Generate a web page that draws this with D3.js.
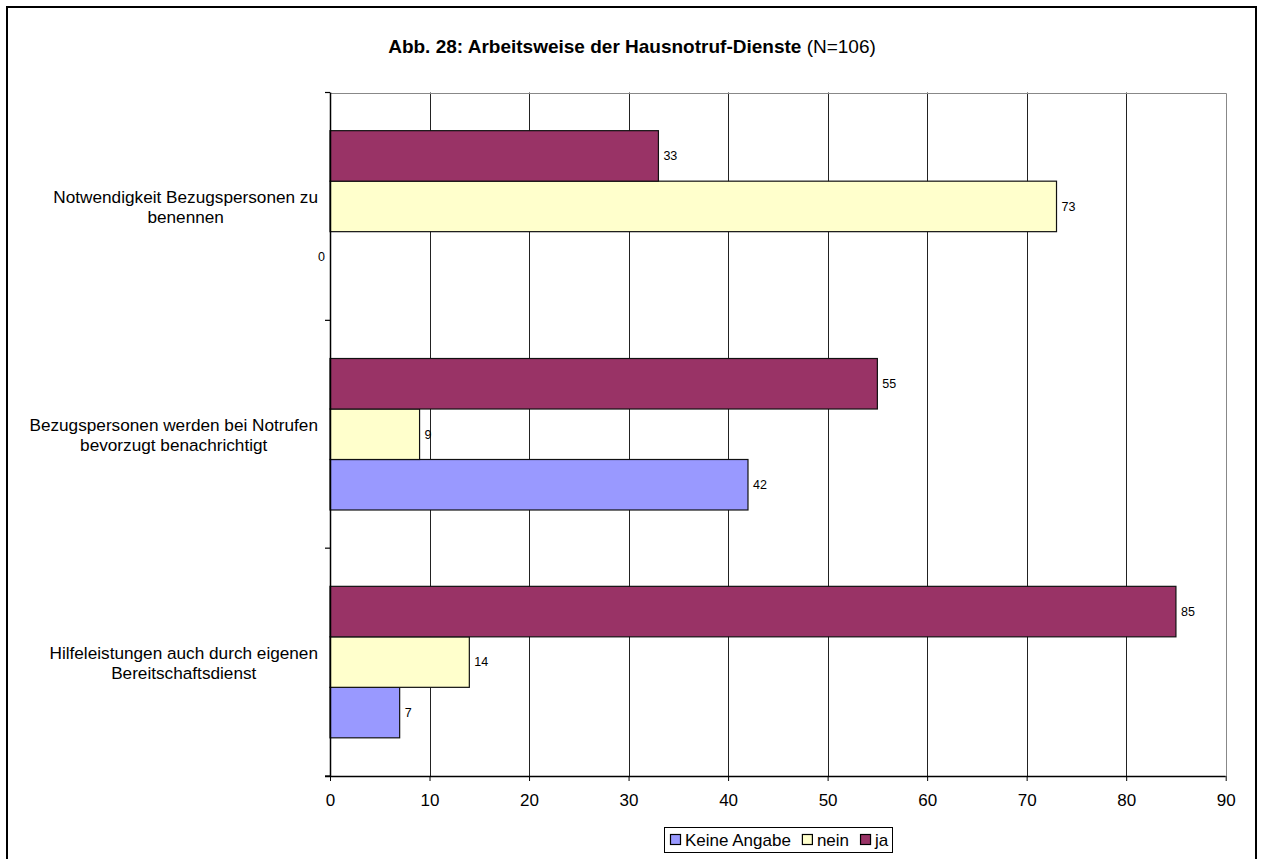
<!DOCTYPE html>
<html>
<head>
<meta charset="utf-8">
<script src="https://cdn.jsdelivr.net/npm/d3@7"></script>
<style>
  html, body { margin: 0; padding: 0; background: #fff; }
  svg { display: block; font-family: "Liberation Sans", Arial, sans-serif; }
</style>
</head>
<body>
<svg id="chart" width="1264" height="859"></svg>
<script>
// Category labels, one entry per line of text
const categoryLines = [
  ["Notwendigkeit Bezugspersonen zu", "benennen"],
  ["Bezugspersonen werden bei Notrufen", "bevorzugt benachrichtigt"],
  ["Hilfeleistungen auch durch eigenen", "Bereitschaftsdienst"]
];
const categories = categoryLines.map(l => l.join(" "));

// Answers per category
const keineAngabe = [0, 42, 7];
const nein = [73, 9, 14];
const ja = [33, 55, 85];

const seriesNames = ["Keine Angabe", "nein", "ja"];
const seriesValues = [keineAngabe, nein, ja];
const seriesColors = ["#9999FF", "#FFFFCC", "#993366"];

const xTicks = [0, 10, 20, 30, 40, 50, 60, 70, 80, 90];

const svg = d3.select("#chart");

// outer frame
svg.append("rect")
  .attr("x", 7).attr("y", 7).attr("width", 1249).attr("height", 870)
  .attr("fill", "none").attr("stroke", "#000").attr("stroke-width", 2);

const plotLeft = 330, plotRight = 1225.7, plotTop = 92.5, plotBottom = 776;

const x = d3.scaleLinear().domain([0, 90]).range([plotLeft, plotRight]);
const y = d3.scaleBand().domain(categories).range([plotTop, plotBottom]).padding(0);
// within each category: ja on top, then nein, then Keine Angabe
const ySeries = d3.scaleBand()
  .domain(["ja", "nein", "Keine Angabe"])
  .range([0, y.bandwidth()])
  .paddingInner(0).paddingOuter(0.756);

// vertical gridlines
svg.append("g")
  .selectAll("line")
  .data(xTicks.slice(1, -1))
  .join("line")
  .attr("x1", d => Math.round(x(d)) + 0.5).attr("x2", d => Math.round(x(d)) + 0.5)
  .attr("y1", plotTop).attr("y2", plotBottom)
  .attr("stroke", "#222").attr("stroke-width", 1);

// plot frame top/right
svg.append("path")
  .attr("d", `M${plotLeft},${Math.round(plotTop) + 0.5}H${Math.round(plotRight) + 0.5}V${plotBottom}`)
  .attr("fill", "none").attr("stroke", "#888").attr("stroke-width", 1);

// bars
const rows = [];
seriesNames.forEach((s, si) => {
  categories.forEach((c, ci) => {
    rows.push({ series: s, cat: c, value: seriesValues[si][ci], color: seriesColors[si] });
  });
});

const bars = svg.append("g");
bars.selectAll("rect")
  .data(rows.filter(d => d.value > 0))
  .join("rect")
  .attr("x", x(0))
  .attr("y", d => y(d.cat) + ySeries(d.series))
  .attr("width", d => x(d.value) - x(0))
  .attr("height", ySeries.bandwidth())
  .attr("fill", d => d.color)
  .attr("stroke", "#111").attr("stroke-width", 1.2);

// value labels
svg.append("g")
  .selectAll("text")
  .data(rows)
  .join("text")
  .attr("x", d => d.value === 0 ? x(0) - 5 : x(d.value) + 5)
  .attr("y", d => y(d.cat) + ySeries(d.series) + ySeries.bandwidth() / 2)
  .attr("dy", "0.35em")
  .attr("text-anchor", d => d.value === 0 ? "end" : "start")
  .attr("font-size", 12.5)
  .attr("fill", "#000")
  .text(d => d.value);

// y axis
const yAxisG = svg.append("g");
yAxisG.append("line")
  .attr("x1", plotLeft + 0.5).attr("x2", plotLeft + 0.5)
  .attr("y1", plotTop).attr("y2", plotBottom)
  .attr("stroke", "#000").attr("stroke-width", 1.5);
const yTickPos = [plotTop, ...categories.map(c => y(c) + y.bandwidth())];
yAxisG.selectAll("line.tick")
  .data(yTickPos)
  .join("line").attr("class", "tick")
  .attr("x1", plotLeft - 5).attr("x2", plotLeft)
  .attr("y1", d => d).attr("y2", d => d)
  .attr("stroke", "#000").attr("stroke-width", 1.2);

// category labels, centred block ending near the axis
const catG = svg.append("g").attr("font-size", 17.2).attr("fill", "#000");
categoryLines.forEach((lines, i) => {
  const cy = y(categories[i]) + y.bandwidth() / 2;
  const t = catG.append("text").attr("text-anchor", "middle");
  const spans = lines.map((ln, k) =>
    t.append("tspan").attr("y", cy - 3 + k * 19.5).text(ln));
  const w = d3.max(spans, s => s.node().getComputedTextLength());
  const cx = 318 - w / 2;
  spans.forEach(s => s.attr("x", cx));
});

// x axis
const xAxis = d3.axisBottom(x).tickValues(xTicks).tickSize(5).tickPadding(13);
const xAxisG = svg.append("g").attr("transform", `translate(0,${plotBottom})`).call(xAxis);
xAxisG.select(".domain").attr("stroke", "#000").attr("stroke-width", 1.5)
  .attr("d", `M${plotLeft - 5},0.5H${plotRight}`);
xAxisG.selectAll(".tick line").attr("stroke", "#000");
xAxisG.selectAll(".tick text")
  .attr("font-size", 17).attr("font-family", "Liberation Sans, Arial, sans-serif")
  .attr("fill", "#000");

// title
const title = svg.append("text")
  .attr("x", 632).attr("y", 53)
  .attr("text-anchor", "middle")
  .attr("font-size", 19).attr("fill", "#000");
title.append("tspan").attr("font-weight", "bold").text("Abb. 28: Arbeitsweise der Hausnotruf-Dienste");
title.append("tspan").text(" (N=106)");

// legend
const legend = svg.append("g");
legend.append("rect")
  .attr("x", 664.5).attr("y", 827.5).attr("width", 228).attr("height", 25)
  .attr("fill", "#fff").attr("stroke", "#000").attr("stroke-width", 1);
let lx = 670.5;
seriesNames.forEach((s, i) => {
  legend.append("rect")
    .attr("x", lx).attr("y", 834.5).attr("width", 10).attr("height", 10)
    .attr("fill", seriesColors[i]).attr("stroke", "#000").attr("stroke-width", 1.2);
  const t = legend.append("text")
    .attr("x", lx + 14.5).attr("y", 846)
    .attr("font-size", 17).attr("fill", "#000")
    .text(s);
  lx += 14.5 + t.node().getComputedTextLength() + 11.5;
});
</script>
</body>
</html>
